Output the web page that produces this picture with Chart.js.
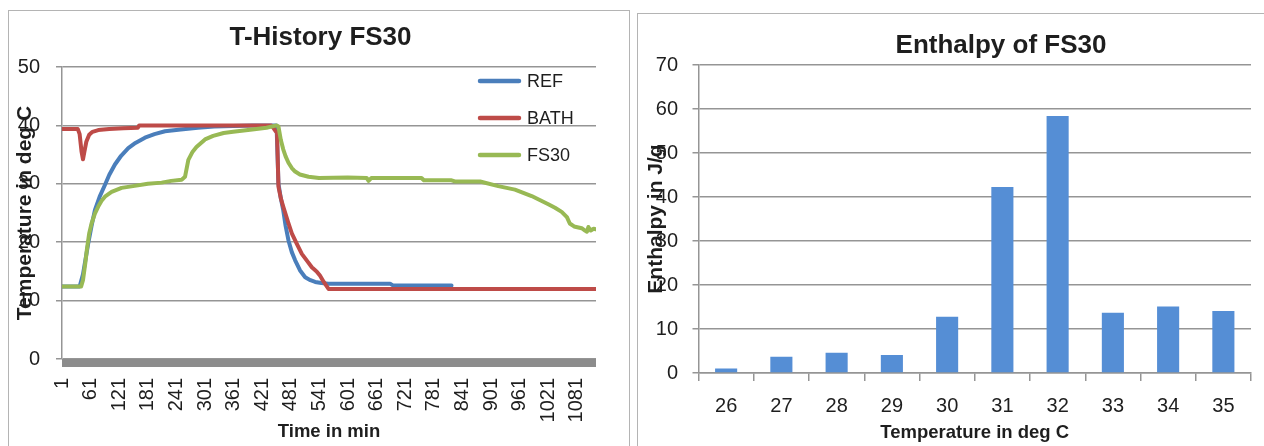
<!DOCTYPE html>
<html><head><meta charset="utf-8">
<script src="https://cdn.jsdelivr.net/npm/chart.js@4.4.1/dist/chart.umd.min.js"></script>
<style>
html,body{margin:0;padding:0;background:#fff;width:1264px;height:446px;overflow:hidden;position:relative}
.frame{position:absolute;border:1px solid #b4b4b4;box-sizing:border-box}
.clip{position:absolute;overflow:hidden;top:0;height:446px}
canvas{position:absolute;top:0;left:0}
</style></head><body>
<div class="frame" style="left:8px;top:10px;width:622px;height:460px"></div>
<div class="frame" style="left:637px;top:13px;width:640px;height:460px"></div>
<div class="clip" style="left:0;width:632px"><canvas id="c1" width="641" height="446" style="width:641px;height:446px"></canvas></div>
<div class="clip" style="left:632px;width:632px"><canvas id="c2" width="738" height="446" style="width:738px;height:446px"></canvas></div>
<script>
// ---------- data: T-History FS30 (time in min, temperature in deg C) ----------
const refTime = [1,38,45,56,63,70,80,91,100,112,125,140,155,175,195,217,250,286,320,360,400,451,455,460,465,470,476,483,490,500,511,522,532,545,560,600,689,695,818];
const refTemp = [12.4,12.4,14.5,19.8,22.8,25.5,27.8,29.8,31.5,33.3,34.8,36.1,37.0,37.9,38.5,39.0,39.3,39.6,39.8,39.9,40.0,40.0,30.0,27.5,25.5,22.8,20.3,18.3,16.9,15.2,14.0,13.5,13.2,13.0,12.9,12.9,12.9,12.6,12.6];

const bathTime = [1,34,38,42,45,48,52,58,65,77,100,130,160,163,440,445,449,452,455,460,465,475,483,493,504,515,525,535,542,550,560,1121];
const bathTemp = [39.4,39.4,38.5,35.5,34.2,35.5,37.2,38.4,38.9,39.2,39.4,39.5,39.6,40.0,40.0,39.5,39.0,38.8,29.5,27.5,26.1,23.5,21.5,19.8,18.0,16.8,15.7,15.0,14.3,13.2,12.0,12.0];

const fsTime = [1,41,45,50,53,58,63,70,77,84,91,105,126,150,181,210,230,252,259,266,275,283,301,318,340,360,400,430,451,455,460,465,470,476,483,490,500,518,540,600,640,644,650,755,760,818,825,878,916,951,986,1021,1035,1049,1060,1066,1075,1091,1098,1102,1105,1110,1116,1121];
const fsTemp = [12.4,12.4,13.5,16.5,18.6,21.5,23.2,24.9,26.1,27.1,27.8,28.6,29.3,29.6,30.0,30.2,30.5,30.7,31.2,34.1,35.5,36.3,37.6,38.2,38.7,38.9,39.3,39.6,40.0,39.8,37.5,35.9,34.7,33.6,32.7,32.1,31.6,31.2,31.0,31.1,31.0,30.5,31.0,31.0,30.6,30.6,30.4,30.4,29.6,29.0,27.9,26.5,25.9,25.2,24.3,23.2,22.7,22.4,22.0,21.8,22.6,22.0,22.3,22.2];

const timeTicks = [1,61,121,181,241,301,361,421,481,541,601,661,721,781,841,901,961,1021,1081];
const tempTicks = [0,10,20,30,40,50];

// ---------- data: Enthalpy of FS30 ----------
const enthalpyCats = ['26','27','28','29','30','31','32','33','34','35'];
const enthalpyVals = [1.0,3.7,4.6,4.1,12.8,42.3,58.4,13.7,15.1,14.1];

// ---------- styling ----------
const FONT = "'Liberation Sans', Arial, sans-serif";
const TXT = '#1e1e1e';
const GRID = '#959595';

function pts(xs, ys){ return xs.map((x,i)=>({x:x, y:ys[i]})); }

const floorBand = {
  id:'floorBand',
  beforeDatasetsDraw(chart, args, opts){
    const {ctx, chartArea:a} = chart;
    ctx.save();
    ctx.fillStyle = opts.color;
    ctx.fillRect(a.left, a.bottom, a.right-a.left, opts.thickness);
    ctx.restore();
  }
};

const insideLegend = {
  id:'insideLegend',
  afterDatasetsDraw(chart, args, opts){
    const {ctx, chartArea:a} = chart;
    ctx.save();
    ctx.font = opts.font;
    ctx.textBaseline = 'middle';
    ctx.textAlign = 'left';
    chart.data.datasets.forEach((ds,i)=>{
      const y = a.top + opts.top + i*opts.spacing;
      const x = a.left + opts.left;
      ctx.strokeStyle = ds.borderColor;
      ctx.lineWidth = 4.5;
      ctx.lineCap = 'round';
      ctx.beginPath(); ctx.moveTo(x,y); ctx.lineTo(x+opts.lineLen,y); ctx.stroke();
      ctx.fillStyle = opts.color;
      ctx.fillText(ds.label, x+opts.lineLen+opts.gap, y+1);
    });
    ctx.restore();
  }
};

const padAxis = (w) => ({position:'right', type:'linear', grid:{display:false}, border:{display:false}, ticks:{display:false}, afterFit: s=>{ s.width = w; }});

new Chart(document.getElementById('c1'), {
  type:'line',
  data:{ datasets:[
    {label:'REF', data:pts(refTime,refTemp), borderColor:'#4A7EBB', order:3},
    {label:'BATH', data:pts(bathTime,bathTemp), borderColor:'#BE4B48', order:2},
    {label:'FS30', data:pts(fsTime,fsTemp), borderColor:'#98B954', order:1}
  ]},
  options:{
    responsive:false, animation:false, devicePixelRatio:1,
    elements:{ line:{borderWidth:4, tension:0, borderJoinStyle:'round', borderCapStyle:'round', fill:false}, point:{radius:0, hoverRadius:0} },
    layout:{padding:0},
    plugins:{
      legend:{display:false}, tooltip:{enabled:false},
      title:{display:true, text:'T-History FS30', color:TXT, font:{family:FONT, size:26, weight:'bold'}, padding:{top:22.4, bottom:13.4}},
      floorBand:{color:'#8c8c8c', thickness:8},
      insideLegend:{font:"18px 'Liberation Sans', Arial, sans-serif", color:TXT, left:418, top:14, spacing:37, lineLen:39, gap:8}
    },
    scales:{
      x:{type:'linear', min:1, max:1121,
         afterBuildTicks: s=>{ s.ticks = timeTicks.map(v=>({value:v})); },
         afterFit: s=>{ s.height = 87; },
         grid:{display:false, drawTicks:false}, border:{display:false},
         ticks:{autoSkip:false, minRotation:90, maxRotation:90, padding:19, color:TXT, font:{family:FONT, size:20},
                callback: v => String(v)},
         title:{display:true, text:'Time in min', color:TXT, font:{family:FONT, size:18.5, weight:'bold'}, padding:{top:0, bottom:2.8}}},
      y:{min:0, max:50,
         afterBuildTicks: s=>{ s.ticks = tempTicks.map(v=>({value:v})); },
         afterFit: s=>{ s.width = 62; },
         grid:{color:GRID, lineWidth:1.5, tickLength:6}, border:{color:GRID, width:1.5},
         ticks:{padding:16, color:TXT, font:{family:FONT, size:20}},
         title:{display:true, text:'Temperature in deg C', color:TXT, font:{family:FONT, size:21, weight:'bold'}, padding:{top:12.4, bottom:0}}},
      pad: padAxis(45)
    }
  },
  plugins:[floorBand, insideLegend]
});

new Chart(document.getElementById('c2'), {
  type:'bar',
  data:{ labels:enthalpyCats, datasets:[{label:'Enthalpy', data:enthalpyVals, backgroundColor:'#558ED5', barPercentage:0.4, categoryPercentage:1.0}] },
  options:{
    responsive:false, animation:false, devicePixelRatio:1,
    layout:{padding:0},
    plugins:{
      legend:{display:false}, tooltip:{enabled:false},
      title:{display:true, text:'Enthalpy of FS30', color:TXT, font:{family:FONT, size:26, weight:'bold'}, padding:{top:30.4, bottom:3.4}}
    },
    scales:{
      x:{afterFit: s=>{ s.height = 73; },
         grid:{drawOnChartArea:false, color:GRID, lineWidth:1.5, tickLength:8, offset:true}, border:{color:GRID, width:1.5},
         ticks:{padding:13, color:TXT, font:{family:FONT, size:20}},
         title:{display:true, text:'Temperature in deg C', color:TXT, font:{family:FONT, size:18.5, weight:'bold'}, padding:{top:0, bottom:1.6}}},
      y:{min:0, max:70, ticks:{stepSize:10, padding:14.5, color:TXT, font:{family:FONT, size:20}},
         afterFit: s=>{ s.width = 66.5; },
         grid:{color:GRID, lineWidth:1.5, tickLength:6}, border:{color:GRID, width:1.5},
         title:{display:true, text:'Enthalpy in J/g', color:TXT, font:{family:FONT, size:21, weight:'bold'}, padding:{top:11.4, bottom:0}}},
      pad: padAxis(119)
    }
  }
});
</script>
</body></html>
